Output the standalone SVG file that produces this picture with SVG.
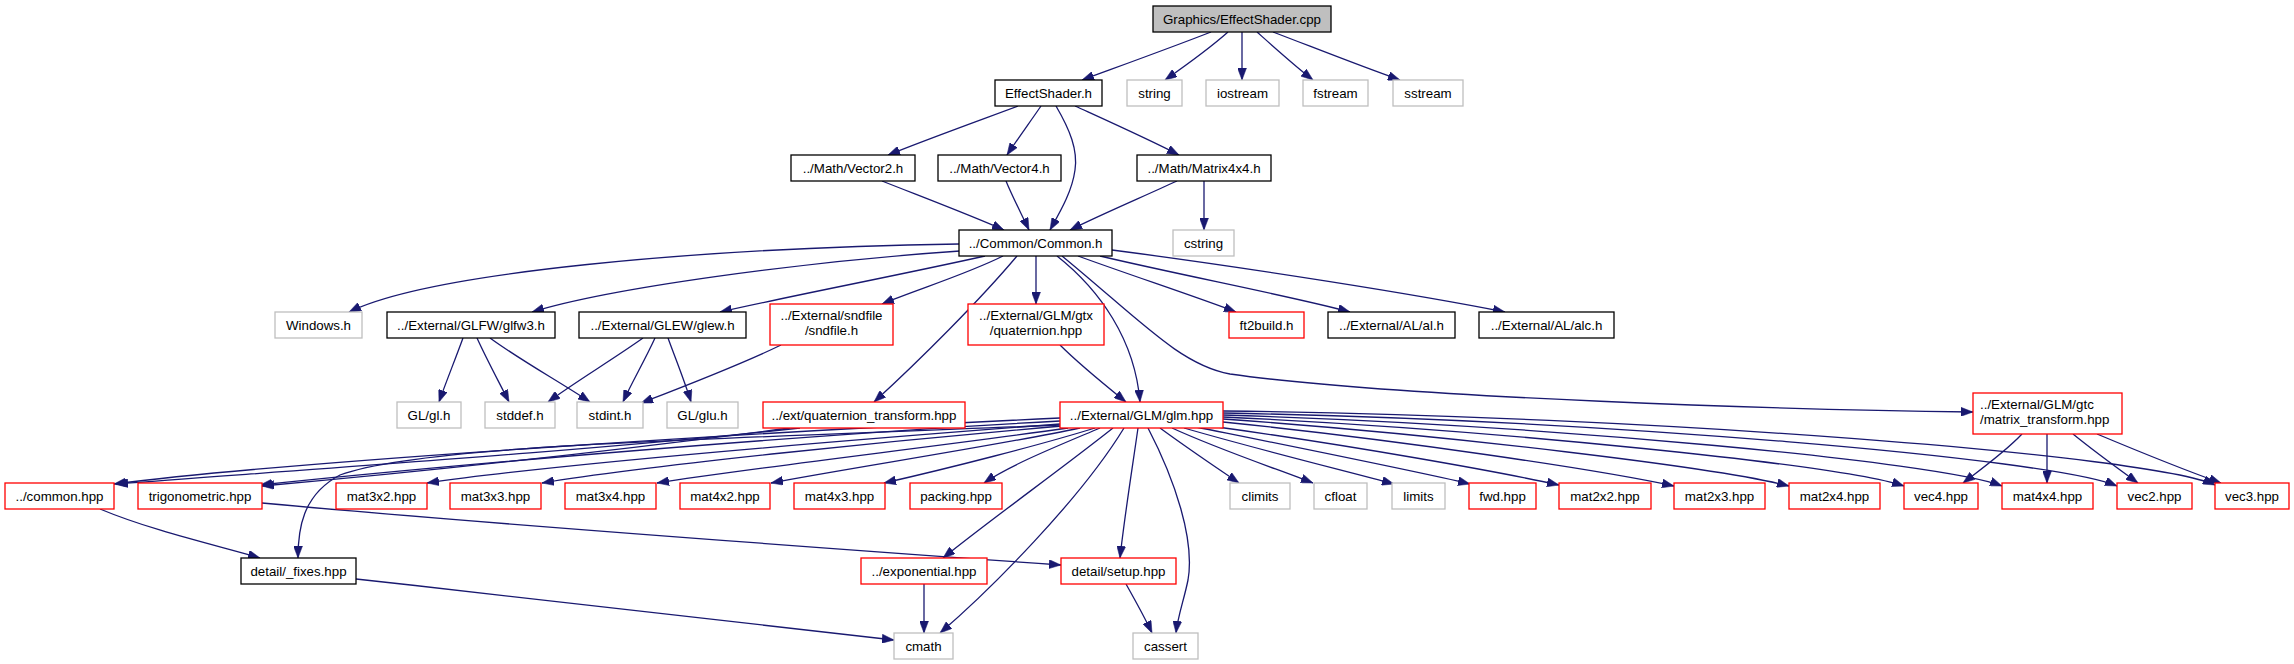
<svg xmlns="http://www.w3.org/2000/svg" width="2294" height="664" viewBox="0 0 2294 664">
<defs>
<marker id="ah" markerUnits="userSpaceOnUse" markerWidth="12" markerHeight="9" refX="12" refY="4.5" orient="auto">
<path d="M0,0 L12,4.5 L0,9 z" fill="#191970" stroke="#191970" stroke-width="0.5"/>
</marker>
</defs>
<style>
rect{fill:#fff;stroke-width:1.3}
.b rect{stroke:#000}
.g rect{stroke:#bfbfbf}
.r rect{stroke:#ff0000}
.root rect{fill:#bfbfbf;stroke:#000}
text{font-family:"Liberation Sans",Arial,sans-serif;font-size:13.3px;fill:#000;text-anchor:middle}
text.l{text-anchor:start}
#edges path{fill:none;stroke:#191970;stroke-width:1.3;marker-end:url(#ah)}
</style>
<rect x="0" y="0" width="2294" height="664" style="fill:#fff;stroke:none"/>
<g id="edges">
<path d="M1211,32 C1170,48 1120,66 1082,80"/>
<path d="M1228,32 C1210,48 1185,66 1165,80"/>
<path d="M1242,32 L1242,80"/>
<path d="M1257,32 C1275,48 1295,66 1313,80"/>
<path d="M1273,32 C1315,48 1360,66 1400,80"/>
<path d="M1018,106 C975,122 925,140 888,155"/>
<path d="M1041,106 C1030,122 1017,140 1007,155"/>
<path d="M1056,106 C1070,130 1078,150 1075,170 C1072,192 1060,212 1050,230"/>
<path d="M1075,106 C1110,122 1150,140 1179,155"/>
<path d="M882,181 C925,198 970,215 1004,230"/>
<path d="M1006,181 C1013,198 1022,215 1029,230"/>
<path d="M1177,181 C1140,198 1100,215 1070,230"/>
<path d="M1204,181 L1204,230"/>
<path d="M959,244 C700,248 430,272 349,312"/>
<path d="M960,251 C800,262 610,288 532,312"/>
<path d="M985,256 C900,275 790,296 720,312"/>
<path d="M1003,256 C965,275 915,290 882,304"/>
<path d="M1017,256 C980,300 920,360 874,402"/>
<path d="M1036,256 L1036,304"/>
<path d="M1057,256 C1100,290 1135,340 1140,402"/>
<path d="M1062,256 C1140,320 1180,365 1230,374 C1400,398 1800,410 1973,412"/>
<path d="M1078,256 C1130,275 1200,298 1236,312"/>
<path d="M1100,256 C1180,275 1300,298 1350,312"/>
<path d="M1112,250 C1250,268 1420,295 1505,312"/>
<path d="M463,338 C455,360 446,382 439,402"/>
<path d="M477,338 C487,360 499,382 509,402"/>
<path d="M490,338 C520,360 560,382 590,402"/>
<path d="M643,338 C612,360 575,382 548,402"/>
<path d="M655,338 C645,360 632,382 623,402"/>
<path d="M668,338 C676,360 685,382 691,402"/>
<path d="M781,345 C740,365 680,388 641,403"/>
<path d="M1060,345 C1080,365 1105,385 1126,402"/>
<path d="M1060,418 C800,430 300,460 114,484"/>
<path d="M800,428 C600,450 300,470 116,484"/>
<path d="M1060,421 C800,435 450,465 260,485"/>
<path d="M790,428 C620,450 420,472 262,486"/>
<path d="M1060,425 C700,440 420,445 340,475 C302,495 298,530 298,558"/>
<path d="M1060,424 C850,440 550,465 427,483"/>
<path d="M1062,426 C900,440 650,465 542,483"/>
<path d="M1068,428 C950,445 750,468 657,483"/>
<path d="M1080,428 C1000,445 850,468 771,483"/>
<path d="M1095,428 C1040,445 950,468 884,483"/>
<path d="M1100,428 C1060,445 1010,465 984,483"/>
<path d="M1113,428 C1060,470 990,520 943,558"/>
<path d="M1124,428 C1080,500 990,590 940,633"/>
<path d="M1138,428 C1132,470 1124,520 1120,558"/>
<path d="M1148,428 C1175,480 1195,540 1188,580 C1184,600 1178,615 1176,633"/>
<path d="M1160,428 C1190,450 1220,470 1239,483"/>
<path d="M1172,428 C1220,450 1280,470 1313,483"/>
<path d="M1184,428 C1260,450 1350,472 1394,484"/>
<path d="M1196,427 C1300,448 1420,472 1470,484"/>
<path d="M1210,426 C1350,445 1500,472 1559,485"/>
<path d="M1223,422 C1400,440 1600,470 1674,486"/>
<path d="M1223,419 C1450,435 1720,468 1789,486"/>
<path d="M1223,417 C1500,430 1840,465 1904,486"/>
<path d="M1223,415 C1550,425 1940,462 2002,486"/>
<path d="M1223,413 C1600,420 2050,458 2117,486"/>
<path d="M1223,411 C1650,416 2150,455 2215,485"/>
<path d="M2022,434 C2005,452 1980,470 1963,483"/>
<path d="M2047,434 L2047,483"/>
<path d="M2073,434 C2095,452 2120,470 2138,483"/>
<path d="M2097,434 C2140,452 2190,472 2221,483"/>
<path d="M100,509 C150,530 215,545 260,558"/>
<path d="M262,503 C500,525 850,550 1061,565"/>
<path d="M356,579 C550,600 750,625 894,640"/>
<path d="M924,584 L924,633"/>
<path d="M1126,584 C1135,600 1145,618 1152,633"/>
</g>
<g id="n_root" class="root"><rect x="1153" y="6" width="178" height="26"/><text x="1242" y="23.5">Graphics/EffectShader.cpp</text></g>
<g id="n_effectshader_h" class="b"><rect x="995" y="80" width="107" height="26"/><text x="1048.5" y="97.5">EffectShader.h</text></g>
<g id="n_string" class="g"><rect x="1127" y="80" width="55" height="26"/><text x="1154.5" y="97.5">string</text></g>
<g id="n_iostream" class="g"><rect x="1206" y="80" width="73" height="26"/><text x="1242.5" y="97.5">iostream</text></g>
<g id="n_fstream" class="g"><rect x="1303" y="80" width="65" height="26"/><text x="1335.5" y="97.5">fstream</text></g>
<g id="n_sstream" class="g"><rect x="1393" y="80" width="70" height="26"/><text x="1428" y="97.5">sstream</text></g>
<g id="n_vector2" class="b"><rect x="791" y="155" width="124" height="26"/><text x="853" y="172.5">../Math/Vector2.h</text></g>
<g id="n_vector4" class="b"><rect x="938" y="155" width="123" height="26"/><text x="999.5" y="172.5">../Math/Vector4.h</text></g>
<g id="n_matrix4x4" class="b"><rect x="1137" y="155" width="134" height="26"/><text x="1204" y="172.5">../Math/Matrix4x4.h</text></g>
<g id="n_common_h" class="b"><rect x="959" y="230" width="153" height="26"/><text x="1035.5" y="247.5">../Common/Common.h</text></g>
<g id="n_cstring" class="g"><rect x="1173" y="230" width="61" height="26"/><text x="1203.5" y="247.5">cstring</text></g>
<g id="n_windows" class="g"><rect x="275" y="312" width="87" height="26"/><text x="318.5" y="329.5">Windows.h</text></g>
<g id="n_glfw3" class="b"><rect x="387" y="312" width="168" height="26"/><text x="471" y="329.5">../External/GLFW/glfw3.h</text></g>
<g id="n_glew" class="b"><rect x="579" y="312" width="167" height="26"/><text x="662.5" y="329.5">../External/GLEW/glew.h</text></g>
<g id="n_sndfile" class="r"><rect x="770" y="304" width="123" height="41"/><text x="831.5" y="319.5">../External/sndfile</text><text x="831.5" y="334.5">/sndfile.h</text></g>
<g id="n_gtx_quaternion" class="r"><rect x="968" y="304" width="136" height="41"/><text x="1036" y="319.5">../External/GLM/gtx</text><text x="1036" y="334.5">/quaternion.hpp</text></g>
<g id="n_ft2build" class="r"><rect x="1229" y="312" width="75" height="26"/><text x="1266.5" y="329.5">ft2build.h</text></g>
<g id="n_al" class="b"><rect x="1328" y="312" width="127" height="26"/><text x="1391.5" y="329.5">../External/AL/al.h</text></g>
<g id="n_alc" class="b"><rect x="1479" y="312" width="135" height="26"/><text x="1546.5" y="329.5">../External/AL/alc.h</text></g>
<g id="n_gl" class="g"><rect x="397" y="402" width="64" height="26"/><text x="429" y="419.5">GL/gl.h</text></g>
<g id="n_stddef" class="g"><rect x="485" y="402" width="70" height="26"/><text x="520" y="419.5">stddef.h</text></g>
<g id="n_stdint" class="g"><rect x="577" y="402" width="66" height="26"/><text x="610" y="419.5">stdint.h</text></g>
<g id="n_glu" class="g"><rect x="667" y="402" width="71" height="26"/><text x="702.5" y="419.5">GL/glu.h</text></g>
<g id="n_quaternion_transform" class="r"><rect x="763" y="402" width="202" height="26"/><text x="864" y="419.5">../ext/quaternion_transform.hpp</text></g>
<g id="n_glm" class="r"><rect x="1060" y="402" width="163" height="26"/><text x="1141.5" y="419.5">../External/GLM/glm.hpp</text></g>
<g id="n_matrix_transform" class="r"><rect x="1973" y="393" width="149" height="41"/><text class="l" x="1980" y="408.5">../External/GLM/gtc</text><text class="l" x="1980" y="423.5">/matrix_transform.hpp</text></g>
<g id="n_common_hpp" class="r"><rect x="5" y="483" width="109" height="26"/><text x="59.5" y="500.5">../common.hpp</text></g>
<g id="n_trigonometric" class="r"><rect x="138" y="483" width="124" height="26"/><text x="200" y="500.5">trigonometric.hpp</text></g>
<g id="n_mat3x2" class="r"><rect x="336" y="483" width="91" height="26"/><text x="381.5" y="500.5">mat3x2.hpp</text></g>
<g id="n_mat3x3" class="r"><rect x="450" y="483" width="91" height="26"/><text x="495.5" y="500.5">mat3x3.hpp</text></g>
<g id="n_mat3x4" class="r"><rect x="565" y="483" width="91" height="26"/><text x="610.5" y="500.5">mat3x4.hpp</text></g>
<g id="n_mat4x2" class="r"><rect x="680" y="483" width="90" height="26"/><text x="725" y="500.5">mat4x2.hpp</text></g>
<g id="n_mat4x3" class="r"><rect x="794" y="483" width="91" height="26"/><text x="839.5" y="500.5">mat4x3.hpp</text></g>
<g id="n_packing" class="r"><rect x="910" y="483" width="92" height="26"/><text x="956" y="500.5">packing.hpp</text></g>
<g id="n_climits" class="g"><rect x="1230" y="483" width="60" height="26"/><text x="1260" y="500.5">climits</text></g>
<g id="n_cfloat" class="g"><rect x="1314" y="483" width="53" height="26"/><text x="1340.5" y="500.5">cfloat</text></g>
<g id="n_limits" class="g"><rect x="1392" y="483" width="53" height="26"/><text x="1418.5" y="500.5">limits</text></g>
<g id="n_fwd" class="r"><rect x="1469" y="483" width="67" height="26"/><text x="1502.5" y="500.5">fwd.hpp</text></g>
<g id="n_mat2x2" class="r"><rect x="1559" y="483" width="92" height="26"/><text x="1605" y="500.5">mat2x2.hpp</text></g>
<g id="n_mat2x3" class="r"><rect x="1674" y="483" width="91" height="26"/><text x="1719.5" y="500.5">mat2x3.hpp</text></g>
<g id="n_mat2x4" class="r"><rect x="1789" y="483" width="91" height="26"/><text x="1834.5" y="500.5">mat2x4.hpp</text></g>
<g id="n_vec4" class="r"><rect x="1904" y="483" width="74" height="26"/><text x="1941" y="500.5">vec4.hpp</text></g>
<g id="n_mat4x4" class="r"><rect x="2002" y="483" width="91" height="26"/><text x="2047.5" y="500.5">mat4x4.hpp</text></g>
<g id="n_vec2" class="r"><rect x="2117" y="483" width="75" height="26"/><text x="2154.5" y="500.5">vec2.hpp</text></g>
<g id="n_vec3" class="r"><rect x="2215" y="483" width="74" height="26"/><text x="2252" y="500.5">vec3.hpp</text></g>
<g id="n_fixes" class="b"><rect x="241" y="558" width="115" height="26"/><text x="298.5" y="575.5">detail/_fixes.hpp</text></g>
<g id="n_exponential" class="r"><rect x="861" y="558" width="126" height="26"/><text x="924" y="575.5">../exponential.hpp</text></g>
<g id="n_setup" class="r"><rect x="1061" y="558" width="115" height="26"/><text x="1118.5" y="575.5">detail/setup.hpp</text></g>
<g id="n_cmath" class="g"><rect x="894" y="633" width="59" height="26"/><text x="923.5" y="650.5">cmath</text></g>
<g id="n_cassert" class="g"><rect x="1133" y="633" width="65" height="26"/><text x="1165.5" y="650.5">cassert</text></g>
</svg>
